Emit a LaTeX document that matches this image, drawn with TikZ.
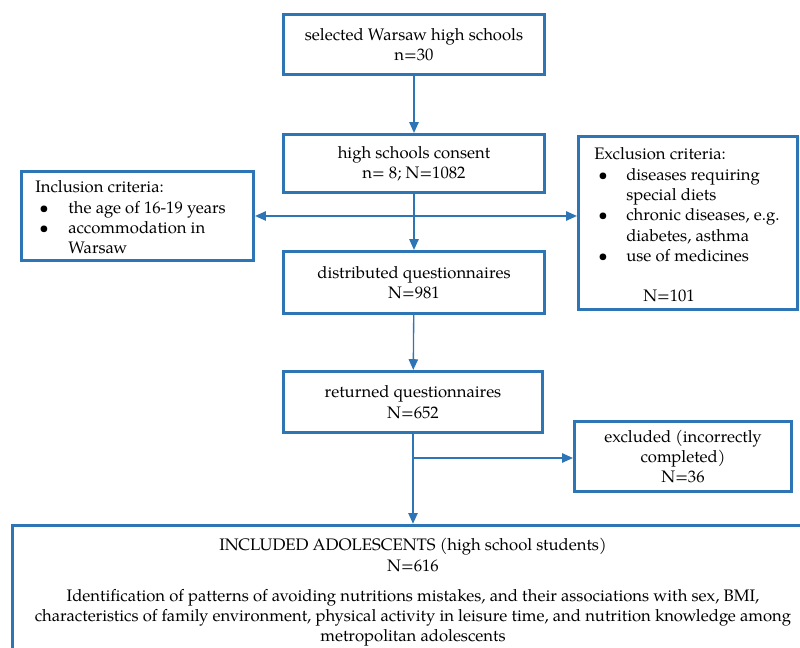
\documentclass[tikz,border=0pt]{standalone}
\usepackage{fontspec}
\setmainfont{TeX Gyre Pagella}
\usetikzlibrary{arrows.meta}
\definecolor{boxblue}{RGB}{46,117,182}
\begin{document}
\begin{tikzpicture}[x=0.75pt,y=-0.75pt,
  font=\fontsize{12.5}{15.2}\selectfont,
  box/.style={draw=boxblue,line width=2.4pt,rectangle,inner sep=0pt,align=center},
  arr/.style={draw=boxblue,line width=1pt,-{Triangle[length=8pt,width=7pt]}},
  darr/.style={draw=boxblue,line width=1pt,{Triangle[length=8pt,width=7pt]}-{Triangle[length=8pt,width=7pt]}},
  txt/.style={inner sep=0pt,anchor=base west}]
\useasboundingbox (0,0) rectangle (800,648);
\node[box,minimum width=195.75pt,minimum height=45pt] (b1) at (414,44.5) {selected Warsaw high schools\\n=30};
\node[box,minimum width=195.75pt,minimum height=43.5pt] (b2) at (414,163.5) {high schools consent\\n= 8; N=1082};
\node[box,minimum width=195.75pt,minimum height=46.5pt] (b3) at (414,282.5) {distributed questionnaires\\N=981};
\node[box,minimum width=194.25pt,minimum height=45.75pt] (b4) at (413,402) {returned questionnaires\\N=652};
\node[box,minimum width=174pt,minimum height=66.75pt] (incl) at (137.5,216) {};
\node[box,minimum width=164.25pt,minimum height=129.75pt] (excl) at (688,223) {};
\node[box,minimum width=162.75pt,minimum height=52.5pt] (exc2) at (683,456.5) {excluded (incorrectly\\completed)\\N=36};
\node[box,minimum width=600pt,minimum height=100pt] (fin) at (412.5,592) {};
% criteria texts
\node[txt] (incltxt) at (35,193) {\begin{tabular}[t]{@{}l@{}}
Inclusion criteria:\\
\makebox[24.75pt][l]{\hspace{3pt}\textbullet}the age of 16-19 years\\
\makebox[24.75pt][l]{\hspace{3pt}\textbullet}accommodation in\\
\hspace*{24.75pt}Warsaw
\end{tabular}};
\node[txt] (excltxt) at (594,160) {\begin{tabular}[t]{@{}l@{}}
Exclusion criteria:\\
\makebox[24pt][l]{\hspace{3pt}\textbullet}diseases requiring\\
\hspace*{24pt}special diets\\
\makebox[24pt][l]{\hspace{3pt}\textbullet}chronic diseases, e.g.\\
\hspace*{24pt}diabetes, asthma\\
\makebox[24pt][l]{\hspace{3pt}\textbullet}use of medicines
\end{tabular}};
\node[txt] (exclN) at (643,302) {N=101};
% final box texts
\node[inner sep=0pt,anchor=base] (fin1) at (413,551) {\begin{tabular}[t]{@{}c@{}}INCLUDED ADOLESCENTS (high school students)\\N=616\end{tabular}};
\node[inner sep=0pt,anchor=base] (fin2) at (413,601) {\begin{tabular}[t]{@{}c@{}}Identification of patterns of avoiding nutritions mistakes, and their associations with sex, BMI,\\
characteristics of family environment, physical activity in leisure time, and nutrition knowledge among\\
metropolitan adolescents\end{tabular}};
% connectors
\draw[arr] (b1) -- (b2);
\draw[arr] (b2) -- (b3);
\draw[darr] (incl.east) -- (excl.west |- incl.east);
\draw[arr] (b3) -- (b4);
\coordinate (br) at (413,458);
\draw[arr] (b4.south) -- (b4.south |- fin.north);
\draw[arr] (br) -- (exc2.west |- br);
\end{tikzpicture}
\end{document}
